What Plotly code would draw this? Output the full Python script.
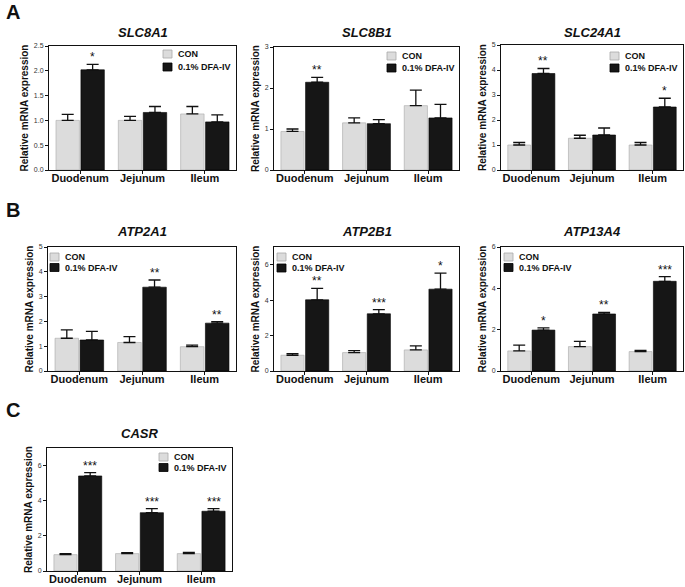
import plotly.graph_objects as go

categories = ["Duodenum", "Jejunum", "Ileum"]
genes = ["SLC8A1", "SLC8B1", "SLC24A1", "ATP2A1", "ATP2B1", "ATP13A4", "CASR"]
series_names = ["CON", "0.1% DFA-IV"]

con_mean = [
    [1.00, 1.00, 1.13],
    [0.94, 1.15, 1.57],
    [1.00, 1.27, 1.00],
    [1.32, 1.15, 0.98],
    [0.89, 1.04, 1.19],
    [0.97, 1.18, 0.94],
    [0.93, 0.99, 0.99],
]
con_err = [
    [0.12, 0.08, 0.15],
    [0.06, 0.12, 0.38],
    [0.10, 0.12, 0.10],
    [0.34, 0.24, 0.06],
    [0.09, 0.11, 0.23],
    [0.28, 0.25, 0.06],
    [0.06, 0.05, 0.07],
]
dfa_mean = [
    [2.02, 1.16, 0.97],
    [2.14, 1.13, 1.27],
    [3.86, 1.40, 2.52],
    [1.25, 3.38, 1.93],
    [4.02, 3.23, 4.62],
    [1.98, 2.76, 4.34],
    [5.41, 3.32, 3.40],
]
dfa_err = [
    [0.11, 0.12, 0.14],
    [0.12, 0.10, 0.33],
    [0.20, 0.28, 0.35],
    [0.35, 0.29, 0.06],
    [0.64, 0.24, 0.91],
    [0.11, 0.08, 0.23],
    [0.19, 0.23, 0.15],
]
stars = [
    ["*", "", ""],
    ["**", "", ""],
    ["**", "", "*"],
    ["", "**", "**"],
    ["**", "***", "*"],
    ["*", "**", "***"],
    ["***", "***", "***"],
]
y_max = [2.5, 3, 5, 5, 7, 6, 7]
y_dtick = [0.5, 1, 1, 1, 2, 2, 2]
y_fmt = [".1f", "d", "d", "d", "d", "d", "d"]
panel_letters = ["A", "B", "C"]

W, H = 685, 587
# panel pixel boxes (left, right, top, bottom)
boxes = [
    (49, 236, 46, 170), (274, 459, 47, 170), (501, 683, 45, 170),
    (48, 236, 247, 371), (274, 459, 247, 371), (501, 683, 247, 371),
    (47, 232, 448, 571),
]
# legend key positions in pixels: (square left, first row centre y, row step)
legend_px = [
    (163, 54, 13), (387, 56, 12), (610, 56, 12),
    (50, 257, 10.5), (277, 257, 11), (504, 257, 10.5),
    (159, 457, 10.5),
]
title_y = [32, 32, 32, 232, 232, 232, 433]
letter_y = [12, 210, 410]

FONT = "Liberation Sans, Arial, sans-serif"
CON_COLOR = "#dcdcdc"
DFA_COLOR = "#161616"
colors = [CON_COLOR, DFA_COLOR]
outline = ["#a8a8a8", "#000000"]


def px_x(v):
    return v / W


def px_y(v):
    return 1 - v / H


fig = go.Figure()
layout = dict(
    width=W, height=H, margin=dict(l=0, r=0, t=0, b=0, autoexpand=False),
    paper_bgcolor="white", plot_bgcolor="white",
    barmode="group", bargap=0.2, bargroupgap=0.06, showlegend=False,
    font=dict(family=FONT, color="#222"),
)
annotations = []
shapes = []

for i, g in enumerate(genes):
    n = "" if i == 0 else str(i + 1)
    xa, ya = "x" + n, "y" + n
    for s, (means, errs) in enumerate([(con_mean[i], con_err[i]), (dfa_mean[i], dfa_err[i])]):
        fig.add_trace(go.Bar(
            x=categories, y=means, name=series_names[s], xaxis=xa, yaxis=ya,
            marker=dict(color=colors[s], line=dict(color=outline[s], width=0.6)),
            error_y=dict(type="data", array=errs, arrayminus=[0, 0, 0], symmetric=False,
                         color="#111", thickness=1.3, width=6),
        ))
    l, r, t, b = boxes[i]
    layout["xaxis" + n] = dict(
        domain=[px_x(l), px_x(r)], anchor=ya, range=[-0.5, 2.5], automargin=False,
        showline=True, linecolor="#111", linewidth=1, mirror=True,
        ticks="outside", ticklen=3, tickcolor="#111", ticklabelstandoff=-5,
        tickfont=dict(size=11, family=FONT, color="#111", weight="bold"),
        showgrid=False, zeroline=False,
    )
    layout["yaxis" + n] = dict(
        domain=[px_y(b), px_y(t)], anchor=xa, range=[0, y_max[i]], automargin=False,
        dtick=y_dtick[i], tick0=0, tickformat=y_fmt[i],
        showline=True, linecolor="#111", linewidth=1, mirror=True,
        ticks="outside", ticklen=3, tickcolor="#111",
        tickfont=dict(size=7, family=FONT, color="#333"),
        showgrid=False, zeroline=False,
        title=dict(text="Relative mRNA expression", standoff=3,
                   font=dict(size=10, family=FONT, color="#111", weight="bold")),
    )
    # legend keys
    sx, sy, step = legend_px[i]
    for s in range(2):
        cy = sy + s * step
        shapes.append(dict(
            type="rect", xref="paper", yref="paper",
            x0=px_x(sx), x1=px_x(sx + 9), y0=px_y(cy + 4), y1=px_y(cy - 4),
            fillcolor=colors[s], line=dict(color=outline[s], width=0.8),
        ))
        annotations.append(dict(
            text=series_names[s], x=px_x(sx + 13), y=px_y(cy),
            xref="paper", yref="paper", showarrow=False, xanchor="left", yanchor="middle",
            font=dict(size=9, family=FONT, color="#111", weight="bold"),
        ))
    annotations.append(dict(
        text="<b><i>" + g + "</i></b>", x=px_x((l + r) / 2), y=px_y(title_y[i]),
        xref="paper", yref="paper", showarrow=False, xanchor="center", yanchor="middle",
        font=dict(size=13, family=FONT, color="#111"),
    ))
    for j in range(3):
        if stars[i][j]:
            annotations.append(dict(
                text=stars[i][j], x=j + 0.2, y=dfa_mean[i][j] + dfa_err[i][j],
                xref=xa, yref=ya, showarrow=False, xanchor="center", yanchor="bottom",
                yshift=-2, font=dict(size=12, family=FONT, color="#111"),
            ))

for k, letter in enumerate(panel_letters):
    annotations.append(dict(
        text="<b>" + letter + "</b>", x=px_x(4), y=px_y(letter_y[k]),
        xref="paper", yref="paper", showarrow=False, xanchor="left", yanchor="middle",
        font=dict(size=20, family=FONT, color="#111"),
    ))

layout["annotations"] = annotations
layout["shapes"] = shapes
fig.update_layout(**layout)
fig.write_html(
    "out.html",
    config={"displayModeBar": False},
    post_script="document.body.style.margin='0px';document.body.style.overflow='hidden';",
)
